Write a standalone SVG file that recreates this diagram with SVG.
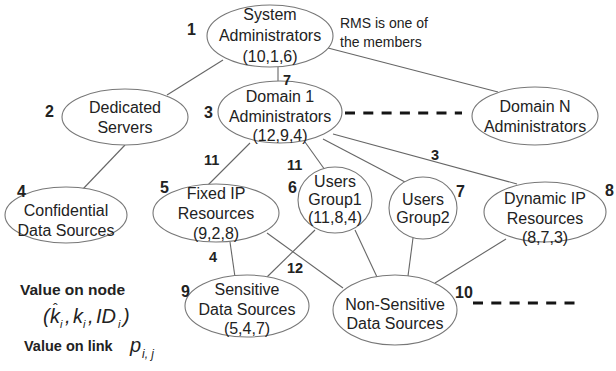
<svg xmlns="http://www.w3.org/2000/svg" width="616" height="371" viewBox="0 0 616 371">
<style>
.n{fill:#fff;stroke:#777;stroke-width:1.1}
.c line{stroke:#666;stroke-width:1.1}
.c line.d{stroke:#151515;stroke-width:3;stroke-dasharray:10 8.3}
text{font-family:"Liberation Sans",Arial,sans-serif;fill:#222}
.t{font-size:16px;text-anchor:middle}
.num{font-size:16px;font-weight:bold}
.lk{font-size:14.5px;font-weight:bold}
.note{font-size:14px}
.m{font-style:italic}
</style>
<rect width="616" height="371" fill="#fff"/>
<g id="connectors" class="c">
<line x1="223" y1="60" x2="167" y2="95"/>
<line x1="278" y1="67" x2="278" y2="81"/>
<line x1="328" y1="48" x2="498" y2="92"/>
<line x1="125" y1="145" x2="82" y2="190"/>
<line x1="250" y1="143" x2="208" y2="185"/>
<line x1="305" y1="142" x2="325" y2="170"/>
<line x1="323" y1="139" x2="405" y2="182"/>
<line x1="333" y1="134" x2="517" y2="184"/>
<line x1="230" y1="242" x2="235" y2="277"/>
<line x1="267" y1="233" x2="343" y2="288"/>
<line x1="315" y1="230" x2="267" y2="277"/>
<line x1="355" y1="230" x2="377" y2="277"/>
<line x1="413" y1="238" x2="408" y2="276"/>
<line x1="506" y1="239" x2="435" y2="283"/>
<line class="d" x1="345" y1="113" x2="462" y2="113"/>
<line class="d" x1="473" y1="303" x2="576" y2="303"/>
</g>
<g id="sysadmin">
<ellipse class="n" cx="270" cy="36" rx="63" ry="31"/>
<text class="t" x="270" y="20">System</text>
<text class="t" x="270" y="41">Administrators</text>
<text class="t" x="270" y="62">(10,1,6)</text>
<text class="num" x="187" y="35">1</text>
<text class="note" x="340" y="28">RMS is one of</text>
<text class="note" x="340" y="47">the members</text>
</g>
<g id="dedicated">
<ellipse class="n" cx="125" cy="117" rx="63" ry="28"/>
<text class="t" x="125" y="113">Dedicated</text>
<text class="t" x="125" y="133">Servers</text>
<text class="num" x="45" y="117">2</text>
</g>
<g id="confidential">
<ellipse class="n" cx="66" cy="215" rx="61" ry="28"/>
<text class="t" x="66" y="216">Confidential</text>
<text class="t" x="66" y="236">Data Sources</text>
<text class="num" x="17" y="197">4</text>
</g>
<g id="domain1">
<ellipse class="n" cx="280" cy="112" rx="62" ry="31"/>
<text class="t" x="280" y="102">Domain 1</text>
<text class="t" x="280" y="122">Administrators</text>
<text class="t" x="280" y="141">(12,9,4)</text>
<text class="num" x="204" y="118">3</text>
</g>
<g id="domainN">
<ellipse class="n" cx="535" cy="116" rx="63" ry="29"/>
<text class="t" x="535" y="112">Domain N</text>
<text class="t" x="535" y="132">Administrators</text>
</g>
<g id="fixedip">
<ellipse class="n" cx="216" cy="213" rx="63" ry="29"/>
<text class="t" x="216" y="199">Fixed IP</text>
<text class="t" x="216" y="219">Resources</text>
<text class="t" x="216" y="239">(9,2,8)</text>
<text class="num" x="160" y="193">5</text>
</g>
<g id="group1">
<ellipse class="n" cx="335" cy="200" rx="37" ry="33"/>
<text class="t" x="335" y="187">Users</text>
<text class="t" x="335" y="205">Group1</text>
<text class="t" x="335" y="223">(11,8,4)</text>
<text class="num" x="288" y="193">6</text>
</g>
<g id="group2">
<ellipse class="n" cx="423" cy="208" rx="34" ry="31"/>
<text class="t" x="423" y="205">Users</text>
<text class="t" x="423" y="223">Group2</text>
<text class="num" x="456" y="197">7</text>
</g>
<g id="dynamicip">
<ellipse class="n" cx="545" cy="212" rx="61" ry="30"/>
<text class="t" x="545" y="204">Dynamic IP</text>
<text class="t" x="545" y="224">Resources</text>
<text class="t" x="545" y="243">(8,7,3)</text>
<text class="num" x="605" y="196">8</text>
</g>
<g id="sensitive">
<ellipse class="n" cx="247" cy="306" rx="62" ry="31"/>
<text class="t" x="247" y="295">Sensitive</text>
<text class="t" x="247" y="315">Data Sources</text>
<text class="t" x="247" y="334">(5,4,7)</text>
<text class="num" x="181" y="297">9</text>
</g>
<g id="nonsensitive">
<ellipse class="n" cx="395" cy="310" rx="62" ry="35"/>
<text class="t" x="395" y="310">Non-Sensitive</text>
<text class="t" x="395" y="329">Data Sources</text>
<text class="num" x="455" y="298">10</text>
</g>
<g id="link-labels">
<text class="lk" x="283" y="85">7</text>
<text class="lk" x="204" y="165">11</text>
<text class="lk" x="287" y="170">11</text>
<text class="lk" x="431" y="160">3</text>
<text class="lk" x="209" y="262">4</text>
<text class="lk" x="287" y="273">12</text>
</g>
<g id="legend">
<text x="20" y="295" style="font-size:15.5px;font-weight:bold">Value on node</text>
<text class="m" y="323" style="font-size:20px"><tspan x="43">(</tspan><tspan x="50">k</tspan><tspan x="53" y="314" style="font-size:14px;font-style:normal">ˆ</tspan><tspan x="60" y="328" style="font-size:11px">i</tspan><tspan x="65" y="323">,</tspan><tspan x="73">k</tspan><tspan x="83" y="328" style="font-size:11px">i</tspan><tspan x="88" y="323">,</tspan><tspan x="96">ID</tspan><tspan x="118" y="328" style="font-size:11px">i</tspan><tspan x="123" y="323">)</tspan></text>
<text x="24" y="351" style="font-size:14.5px;font-weight:bold">Value on link</text>
<text class="m" y="352" style="font-size:20px"><tspan x="130">p</tspan><tspan x="142" y="358" style="font-size:12px">i, j</tspan></text>
</g>
</svg>
